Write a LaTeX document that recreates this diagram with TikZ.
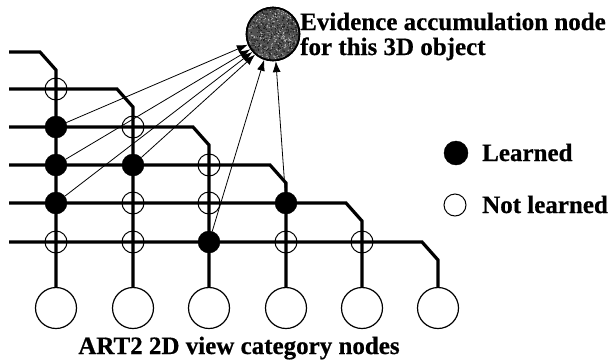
\documentclass[tikz,border=0pt]{standalone}
\usepackage{fontspec}
\setmainfont[BoldFeatures={FakeBold=0.6}]{Liberation Serif}
\usetikzlibrary{arrows.meta}
\begin{document}
\begin{tikzpicture}[x=1pt,y=-1pt,
  wire/.style={line width=3.2pt,line join=miter},
  link/.style={line width=0.8pt,-{Latex[length=11pt,width=8pt]}},
  learned/.style={circle,fill=black,draw=black,inner sep=0pt,minimum size=22pt},
  notlearned/.style={circle,draw=black,line width=1pt,inner sep=0pt,minimum size=22pt},
  category/.style={circle,draw=black,line width=1.2pt,fill=white,inner sep=0pt,minimum size=41pt},
  lbl/.style={font=\bfseries\fontsize{25}{27}\selectfont,inner sep=0pt}]
\useasboundingbox (0,0) rectangle (610,362);

% column positions and row heights
\def\colA{56}\def\colB{133}\def\colC{209}\def\colD{286}\def\colE{362}\def\colF{438}
\def\rowA{52}\def\rowB{89}\def\rowC{127}\def\rowD{165}\def\rowE{203}\def\rowF{242}
\def\bot{287}

% category output lines: horizontal row, bend, vertical to category node
\draw[wire] (9,\rowA) -- (\colA-16,\rowA) -- (\colA,\rowA+18) -- (\colA,\bot);
\draw[wire] (9,\rowB) -- (\colB-16,\rowB) -- (\colB,\rowB+18) -- (\colB,\bot);
\draw[wire] (9,\rowC) -- (\colC-16,\rowC) -- (\colC,\rowC+18) -- (\colC,\bot);
\draw[wire] (9,\rowD) -- (\colD-16,\rowD) -- (\colD,\rowD+18) -- (\colD,\bot);
\draw[wire] (9,\rowE) -- (\colE-16,\rowE) -- (\colE,\rowE+18) -- (\colE,\bot);
\draw[wire] (9,\rowF) -- (\colF-16,\rowF) -- (\colF,\rowF+18) -- (\colF,\bot);

% 2D view category nodes
\node[category] (c1) at (\colA,308) {};
\node[category] (c2) at (\colB,308) {};
\node[category] (c3) at (\colC,308) {};
\node[category] (c4) at (\colD,308) {};
\node[category] (c5) at (\colE,308) {};
\node[category] (c6) at (\colF,308) {};

% junctions
\node[notlearned] (j1b) at (\colA,\rowB) {};
\node[learned]    (j1c) at (\colA,\rowC) {};
\node[learned]    (j1d) at (\colA,\rowD) {};
\node[learned]    (j1e) at (\colA,\rowE) {};
\node[notlearned] (j1f) at (\colA,\rowF) {};
\node[notlearned] (j2c) at (\colB,\rowC) {};
\node[learned]    (j2d) at (\colB,\rowD) {};
\node[notlearned] (j2e) at (\colB,\rowE) {};
\node[notlearned] (j2f) at (\colB,\rowF) {};
\node[notlearned] (j3d) at (\colC,\rowD) {};
\node[notlearned] (j3e) at (\colC,\rowE) {};
\node[learned]    (j3f) at (\colC,\rowF) {};
\node[learned]    (j4e) at (\colD,\rowE) {};
\node[notlearned] (j4f) at (\colD,\rowF) {};
\node[notlearned] (j5f) at (\colE,\rowF) {};

% evidence accumulation node with grainy fill
\node[circle,draw=black,line width=1.6pt,fill=black!68,minimum size=53pt,inner sep=0pt] (ev) at (273,34) {};
\begin{scope}
  \clip (273,34) circle (25.5pt);
  \pgfmathsetseed{7}
  \foreach \k in {1,...,320} {
    \pgfmathsetmacro{\px}{273+rand*25}
    \pgfmathsetmacro{\py}{34+rand*25}
    \fill[black!25] (\px,\py) circle (0.6pt);
  }
  \foreach \k in {1,...,320} {
    \pgfmathsetmacro{\px}{273+rand*25}
    \pgfmathsetmacro{\py}{34+rand*25}
    \fill[black!90] (\px,\py) circle (0.7pt);
  }
\end{scope}
\draw[line width=1.6pt] (273,34) circle (26.5pt);

% evidence links from learned junctions
\draw[link] (j1c) -- (ev.-157);
\draw[link] (j1d) -- (ev.-146);
\draw[link] (j1e) -- (ev.-139);
\draw[link] (j2d) -- (ev.-131);
\draw[link] (j3f) -- (ev.-109);
\draw[link] (j4e) -- (ev.-84);

% labels
\node[lbl,anchor=base west] (evl1) at (300,30) {Evidence accumulation node};
\node[lbl,anchor=base west] (evl2) at (300,55) {for this 3D object};
\node[lbl,anchor=base] (catl) at (239,354) {ART2 2D view category nodes};

% legend
\node[learned,minimum size=24pt] (legL) at (456,153) {};
\node[lbl,anchor=base west] (legLt) at (482,161) {Learned};
\node[notlearned,minimum size=22pt] (legN) at (455,205) {};
\node[lbl,anchor=base west] (legNt) at (482,213) {Not learned};
\end{tikzpicture}
\end{document}
